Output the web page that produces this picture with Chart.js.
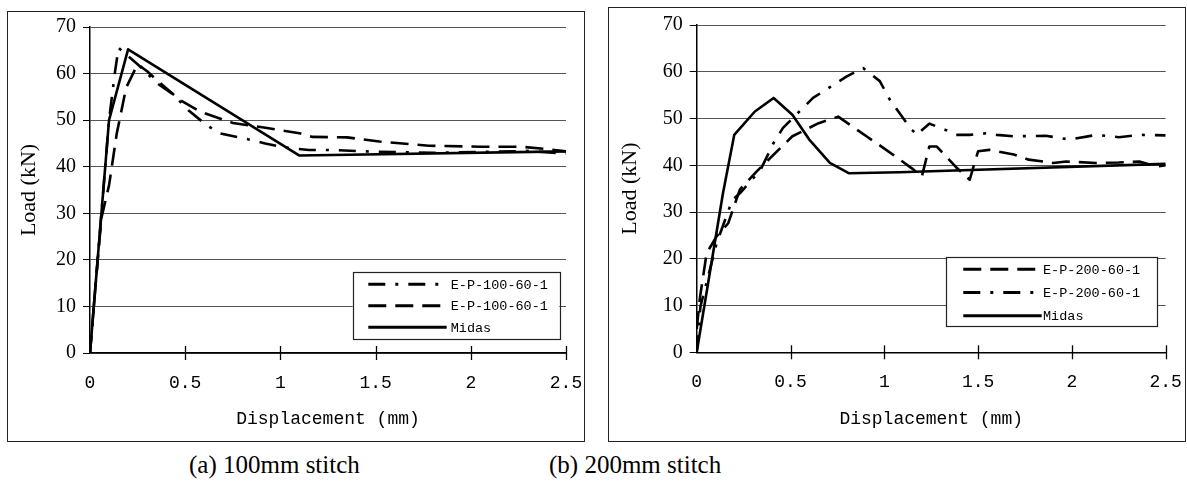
<!DOCTYPE html>
<html>
<head>
<meta charset="utf-8">
<script src="https://cdn.jsdelivr.net/npm/chart.js@4/dist/chart.umd.min.js"></script>
<style>
  html, body { margin:0; padding:0; background:#fff; width:1187px; height:486px; overflow:hidden; }
  .frame { position:absolute; border:1.5px solid #222; box-sizing:border-box; }
  canvas { position:absolute; }
  .cap { position:absolute; font-family:"Liberation Serif", serif; font-size:25px; color:#000; white-space:nowrap; }
</style>
</head>
<body>
<div class="frame" style="left:7px;top:11px;width:578px;height:431px;"></div>
<div class="frame" style="left:608px;top:7px;width:578px;height:435px;"></div>
<canvas id="ca" width="576" height="429" style="left:8px;top:12px;"></canvas>
<canvas id="cb" width="575" height="433" style="left:609px;top:8px;"></canvas>
<div class="cap" style="left:189px;top:451px;">(a) 100mm stitch</div>
<div class="cap" style="left:549px;top:451px;">(b) 200mm stitch</div>
<script>
// ---------- data ----------
const xTickValues = [0, 0.5, 1, 1.5, 2, 2.5];
const xTickLabels = ['0', '0.5', '1', '1.5', '2', '2.5'];
const yTickValues = [0, 10, 20, 30, 40, 50, 60, 70];

// (a) 100mm stitch
const aLabels = ['E-P-100-60-1', 'E-P-100-60-1', 'Midas'];
const aDashDotX = [0, 0.03, 0.07, 0.1, 0.13, 0.15, 0.25, 0.35, 0.44, 0.52, 0.61, 0.68, 0.76, 0.84, 0.92, 0.98, 1.05, 1.15, 1.26, 1.5, 1.8, 2.1, 2.3, 2.5];
const aDashDotY = [0, 15, 35, 50, 60, 65.5, 62, 58, 55.4, 52, 49, 47.2, 46.5, 45.8, 45, 44.5, 44, 43.6, 43.6, 43.2, 43, 43.2, 43.4, 42.8];
const aDashedX = [0, 0.03, 0.06, 0.1, 0.14, 0.19, 0.25, 0.3, 0.37, 0.47, 0.58, 0.75, 0.93, 1.1, 1.17, 1.35, 1.52, 1.78, 2.05, 2.26, 2.4, 2.5];
const aDashedY = [0, 15, 29, 36, 47, 57, 62, 60.5, 57.9, 54.4, 51.8, 49.4, 48.3, 47.2, 46.4, 46.3, 45.4, 44.5, 44.3, 44.3, 43.8, 43.3];
const aMidasX = [0, 0.1, 0.2, 1.1, 2.5];
const aMidasY = [0, 50, 65.2, 42.4, 43.3];

// (b) 200mm stitch
const bLabels = ['E-P-200-60-1', 'E-P-200-60-1', 'Midas'];
const bDashedX = [0, 0.018, 0.053, 0.106, 0.168, 0.23, 0.32, 0.51, 0.65, 0.754, 0.905, 1.01, 1.145, 1.2, 1.24, 1.28, 1.38, 1.455, 1.5, 1.56, 1.69, 1.77, 1.9, 1.97, 2.13, 2.25, 2.36, 2.45, 2.5];
const bDashedY = [5, 11.9, 21.2, 24.8, 27.6, 34.8, 38.7, 46.2, 49, 50.4, 46.2, 43.3, 39.4, 37.6, 44, 44, 39.7, 36.9, 43, 43.3, 42.3, 41.2, 40.5, 40.8, 40.5, 40.6, 40.8, 39.7, 40];
const bDashDotX = [0, 0.02, 0.106, 0.19, 0.23, 0.34, 0.41, 0.46, 0.62, 0.71, 0.8, 0.887, 0.976, 1.03, 1.1, 1.145, 1.18, 1.2, 1.24, 1.33, 1.38, 1.455, 1.56, 1.6, 1.69, 1.86, 1.99, 2.13, 2.25, 2.36, 2.5];
const bDashDotY = [0, 9.8, 23.3, 32.6, 34, 39, 44.8, 48, 54.4, 56.7, 59, 60.8, 58, 54, 50.1, 47.6, 46.5, 47.5, 48.9, 47.5, 46.5, 46.5, 46.9, 46.5, 46.2, 46.3, 45.5, 46.5, 46, 46.5, 46.4];
const bMidasX = [0, 0.14, 0.2, 0.31, 0.41, 0.51, 0.6, 0.71, 0.81, 1.08, 2.5];
const bMidasY = [0, 34, 46.5, 51.5, 54.4, 50.8, 45.5, 40.5, 38.3, 38.5, 40.3];

// ---------- helpers ----------
const pts = (xs, ys) => xs.map((x, i) => ({ x, y: ys[i] }));
const DASH = [18, 9];
const DASHDOT = [17, 10, 3, 10];

function ds(label, xs, ys, dash) {
  return {
    label, data: pts(xs, ys), borderColor: '#000', borderWidth: 2.6,
    borderDash: dash, pointRadius: 0, tension: 0, fill: false,
    borderCapStyle: 'butt', borderJoinStyle: 'round'
  };
}

const boxLegend = {
  id: 'boxLegend',
  afterDraw(chart, args, o) {
    const { ctx, chartArea } = chart;
    const r = chartArea.right - o.offsetRight, b = chartArea.bottom - o.offsetBottom;
    const l = r - o.width, t = b - o.height;
    ctx.save();
    ctx.fillStyle = '#fff';
    ctx.fillRect(l, t, o.width, o.height);
    ctx.strokeStyle = '#222';
    ctx.lineWidth = 1.2;
    ctx.setLineDash([]);
    ctx.strokeRect(Math.round(l) + 0.5, Math.round(t) + 0.5, Math.round(o.width), Math.round(o.height));
    chart.data.datasets.forEach((d, i) => {
      const y = t + o.firstRow + i * o.rowGap;
      ctx.strokeStyle = '#000';
      ctx.lineWidth = 3;
      ctx.setLineDash(d.borderDash || []);
      ctx.beginPath();
      ctx.moveTo(l + o.lineStart, y);
      ctx.lineTo(l + o.lineEnd, y);
      ctx.stroke();
      ctx.setLineDash([]);
      ctx.font = o.font;
      ctx.fillStyle = '#000';
      ctx.textBaseline = 'middle';
      ctx.textAlign = 'left';
      ctx.fillText(d.label, l + o.textStart, y + 1);
    });
    ctx.restore();
  }
};

const xTickMarks = {
  id: 'xTickMarks',
  afterDraw(chart) {
    const { ctx } = chart;
    const xs = chart.scales.x, ys = chart.scales.y;
    const y0 = ys.getPixelForValue(0);
    ctx.save();
    ctx.strokeStyle = '#000';
    ctx.lineWidth = 1.3;
    xTickValues.forEach(v => {
      if (v === 0) return;
      const px = Math.round(xs.getPixelForValue(v)) + 0.5;
      ctx.beginPath();
      ctx.moveTo(px, y0 - 7);
      ctx.lineTo(px, y0 + 7);
      ctx.stroke();
    });
    ctx.restore();
  }
};

function makeChart(id, datasets, cfg) {
  return new Chart(document.getElementById(id), {
    type: 'line',
    data: { datasets },
    options: {
      responsive: false, animation: false, devicePixelRatio: 1,
      layout: { padding: { left: 0, top: cfg.top, right: cfg.right, bottom: 0 } },
      plugins: {
        legend: { display: false }, tooltip: { enabled: false },
        boxLegend: cfg.legend
      },
      scales: {
        x: {
          type: 'linear', min: 0, max: 2.5,
          afterBuildTicks: s => { s.ticks = xTickValues.map(v => ({ value: v })); },
          afterFit: s => { s.height = cfg.xh; },
          ticks: {
            callback: (v) => xTickLabels[xTickValues.indexOf(v)] ?? '',
            font: { family: '"Liberation Mono", monospace', size: 18 },
            color: '#000', padding: 0, maxRotation: 0, autoSkip: false
          },
          grid: { drawOnChartArea: false, drawTicks: true, tickLength: 19, tickColor: 'rgba(0,0,0,0)' },
          border: { display: true, color: '#000', width: 1.5 },
          title: {
            display: true, text: 'Displacement (mm)', color: '#000',
            font: { family: '"Liberation Mono", monospace', size: 18 },
            padding: { top: 0, bottom: 11 }
          }
        },
        y: {
          min: 0, max: 70,
          afterBuildTicks: s => { s.ticks = yTickValues.map(v => ({ value: v })); },
          afterFit: s => { s.width = cfg.yw; },
          ticks: {
            font: { family: '"Liberation Serif", serif', size: 20, lineHeight: 0.8 },
            color: '#000', padding: 7
          },
          grid: { color: '#555', lineWidth: 1, drawTicks: true, tickLength: 7, tickColor: '#000' },
          border: { display: true, color: '#000', width: 1.5 },
          title: {
            display: true, text: 'Load (kN)', color: '#000',
            font: { family: '"Liberation Serif", serif', size: 22 },
            padding: { top: 8, bottom: 0 }
          }
        }
      }
    },
    plugins: [xTickMarks, boxLegend]
  });
}

makeChart('ca', [
  ds(aLabels[0], aDashDotX, aDashDotY, DASHDOT),
  ds(aLabels[1], aDashedX, aDashedY, DASH),
  ds(aLabels[2], aMidasX, aMidasY, [])
], {
  top: 15, right: 18, xh: 88, yw: 82,
  legend: { offsetRight: 6.7, offsetBottom: 14.7, width: 206.6, height: 66.6,
            firstRow: 12.6, rowGap: 21.5, lineStart: 15.6, lineEnd: 94, textStart: 98,
            font: '13.5px "Liberation Mono", monospace' }
});

makeChart('cb', [
  ds(bLabels[0], bDashedX, bDashedY, DASH),
  ds(bLabels[1], bDashDotX, bDashDotY, DASHDOT),
  ds(bLabels[2], bMidasX, bMidasY, [])
], {
  top: 17, right: 18.3, xh: 88.7, yw: 87.7,
  legend: { offsetRight: 8.7, offsetBottom: 26.3, width: 211, height: 69,
            firstRow: 12.3, rowGap: 23.2, lineStart: 17.3, lineEnd: 95.7, textStart: 97,
            font: '13.5px "Liberation Mono", monospace' }
});
</script>
</body>
</html>
